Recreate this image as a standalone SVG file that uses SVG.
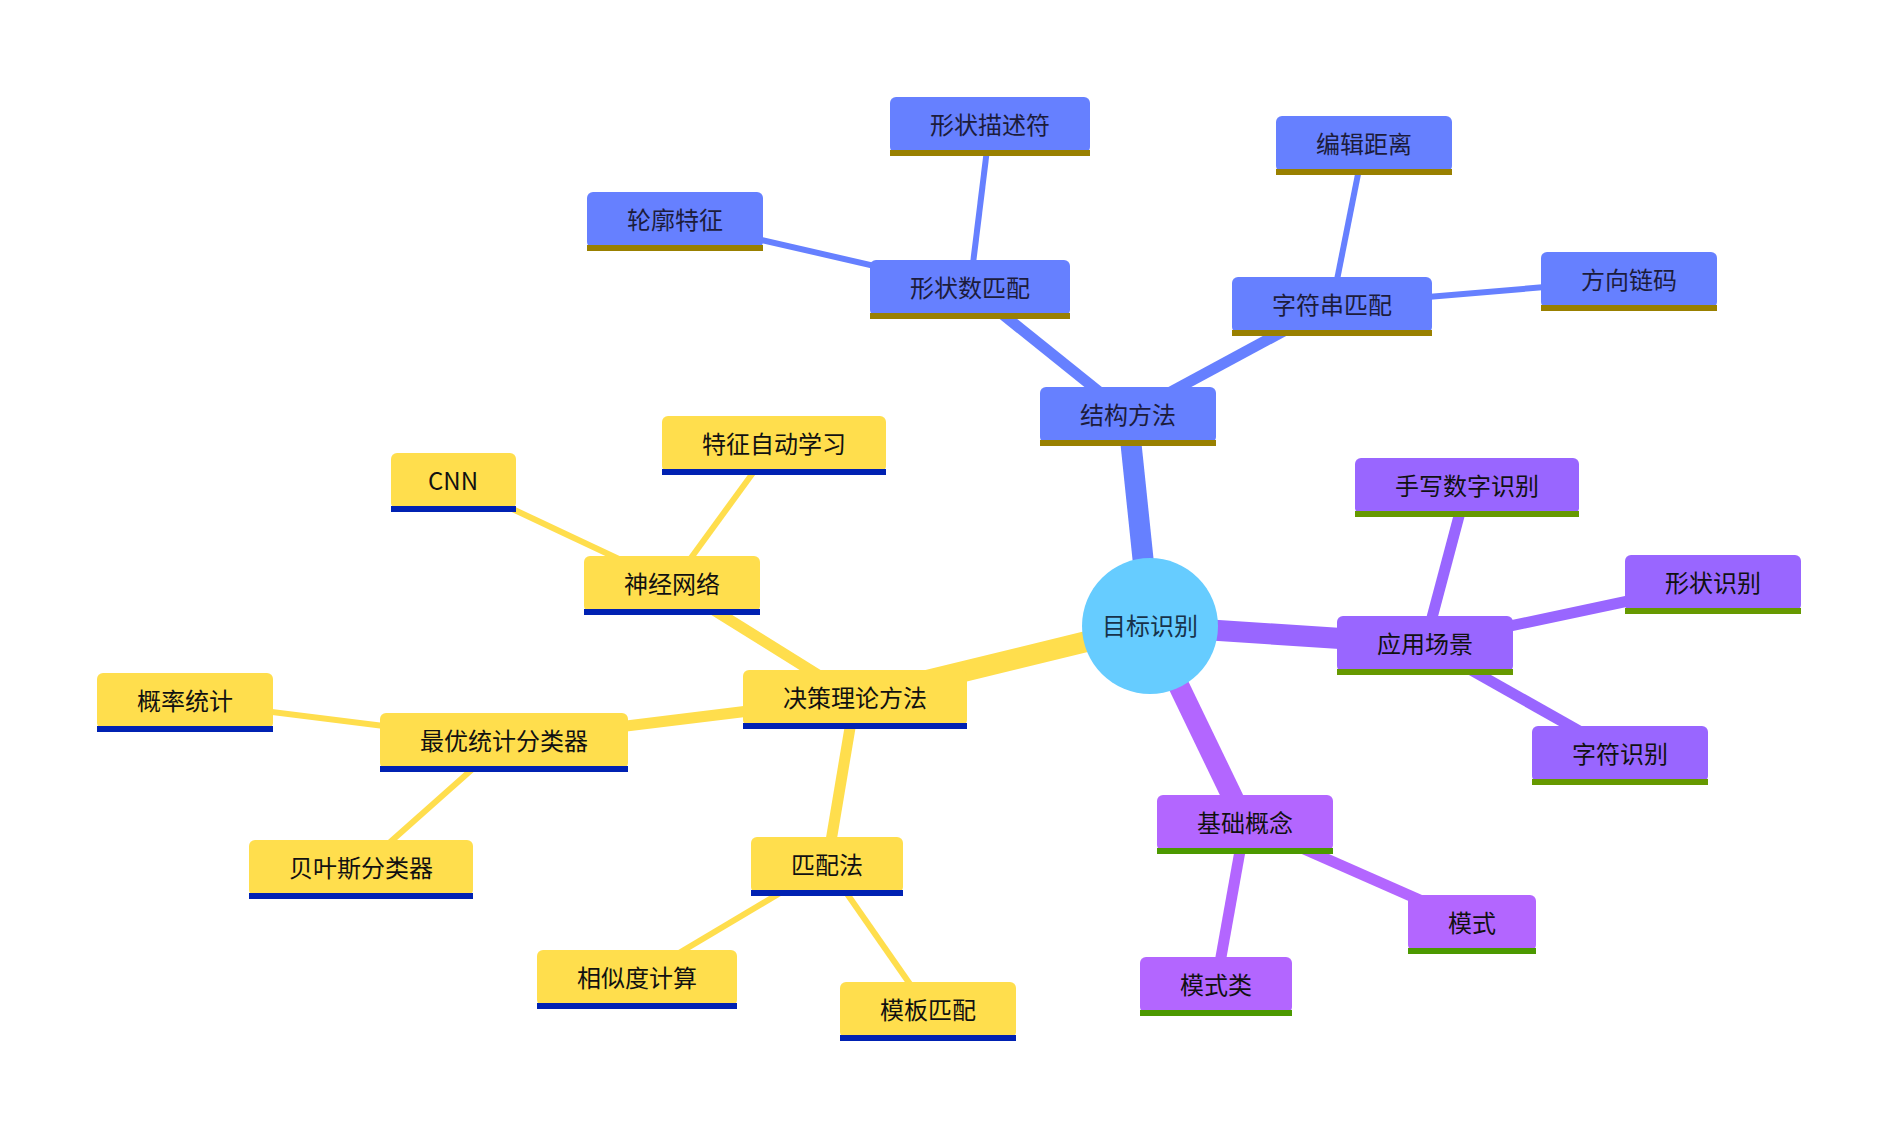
<svg xmlns="http://www.w3.org/2000/svg" width="1897" height="1133" viewBox="0 0 1897 1133">
<style>
text{font-family:"Noto Sans CJK SC","Noto Sans",sans-serif;font-size:24px;text-anchor:middle;dominant-baseline:central}
.e{fill:none;stroke-linecap:butt}
.d0{stroke-width:21}.d1{stroke-width:11}.d2{stroke-width:6}
.sb{stroke:#6680ff}.sy{stroke:#ffde4d}.sp{stroke:#9966ff}.sq{stroke:#b366ff}
.fb{fill:#6680ff}.fy{fill:#ffde4d}.fp{fill:#9966ff}.fq{fill:#b366ff}
.ub{fill:#998000}.uy{fill:#0021b2}.up{fill:#669900}.uq{fill:#4c9900}
.tb{fill:#1c1c3c}.tk{fill:#111}
</style>
<rect width="1897" height="1133" fill="#fff"/>
<g id="edges">
<line class="e d0 sb" x1="1150" y1="626" x2="1128" y2="415"/>
<line class="e d0 sy" x1="1150" y1="626" x2="855" y2="698"/>
<line class="e d0 sp" x1="1150" y1="626" x2="1425" y2="644"/>
<line class="e d0 sq" x1="1150" y1="626" x2="1245" y2="823"/>
<line class="e d1 sb" x1="1128" y1="415" x2="970" y2="288"/>
<line class="e d1 sb" x1="1128" y1="415" x2="1332" y2="305"/>
<line class="e d1 sy" x1="855" y1="698" x2="672" y2="584"/>
<line class="e d1 sy" x1="855" y1="698" x2="504" y2="741"/>
<line class="e d1 sy" x1="855" y1="698" x2="827" y2="865"/>
<line class="e d1 sp" x1="1425" y1="644" x2="1467" y2="486"/>
<line class="e d1 sp" x1="1425" y1="644" x2="1713" y2="583"/>
<line class="e d1 sp" x1="1425" y1="644" x2="1620" y2="754"/>
<line class="e d1 sq" x1="1245" y1="823" x2="1472" y2="923"/>
<line class="e d1 sq" x1="1245" y1="823" x2="1216" y2="985"/>
<line class="e d2 sb" x1="970" y1="288" x2="990" y2="125"/>
<line class="e d2 sb" x1="970" y1="288" x2="675" y2="220"/>
<line class="e d2 sb" x1="1332" y1="305" x2="1364" y2="144"/>
<line class="e d2 sb" x1="1332" y1="305" x2="1629" y2="280"/>
<line class="e d2 sy" x1="672" y1="584" x2="453" y2="481"/>
<line class="e d2 sy" x1="672" y1="584" x2="774" y2="444"/>
<line class="e d2 sy" x1="504" y1="741" x2="185" y2="701"/>
<line class="e d2 sy" x1="504" y1="741" x2="361" y2="868"/>
<line class="e d2 sy" x1="827" y1="865" x2="637" y2="978"/>
<line class="e d2 sy" x1="827" y1="865" x2="928" y2="1010"/>
</g>
<g id="root"><circle cx="1150" cy="626" r="68" fill="#66ccff"/><text x="1150" y="624" fill="#17324a">目标识别</text></g>
<g id="n-struct"><rect class="fb" x="1040" y="387" width="176" height="56" rx="6"/><rect class="ub" x="1040" y="440" width="176" height="6"/><text class="tb" x="1128" y="413">结构方法</text></g>
<g id="n-shapenum"><rect class="fb" x="870" y="260" width="200" height="56" rx="6"/><rect class="ub" x="870" y="313" width="200" height="6"/><text class="tb" x="970" y="286">形状数匹配</text></g>
<g id="n-shapedesc"><rect class="fb" x="890" y="97" width="200" height="56" rx="6"/><rect class="ub" x="890" y="150" width="200" height="6"/><text class="tb" x="990" y="123">形状描述符</text></g>
<g id="n-contour"><rect class="fb" x="587" y="192" width="176" height="56" rx="6"/><rect class="ub" x="587" y="245" width="176" height="6"/><text class="tb" x="675" y="218">轮廓特征</text></g>
<g id="n-string"><rect class="fb" x="1232" y="277" width="200" height="56" rx="6"/><rect class="ub" x="1232" y="330" width="200" height="6"/><text class="tb" x="1332" y="303">字符串匹配</text></g>
<g id="n-edit"><rect class="fb" x="1276" y="116" width="176" height="56" rx="6"/><rect class="ub" x="1276" y="169" width="176" height="6"/><text class="tb" x="1364" y="142">编辑距离</text></g>
<g id="n-chain"><rect class="fb" x="1541" y="252" width="176" height="56" rx="6"/><rect class="ub" x="1541" y="305" width="176" height="6"/><text class="tb" x="1629" y="278">方向链码</text></g>
<g id="n-decision"><rect class="fy" x="743" y="670" width="224" height="56" rx="6"/><rect class="uy" x="743" y="723" width="224" height="6"/><text class="tk" x="855" y="696">决策理论方法</text></g>
<g id="n-nn"><rect class="fy" x="584" y="556" width="176" height="56" rx="6"/><rect class="uy" x="584" y="609" width="176" height="6"/><text class="tk" x="672" y="582">神经网络</text></g>
<g id="n-feat"><rect class="fy" x="662" y="416" width="224" height="56" rx="6"/><rect class="uy" x="662" y="469" width="224" height="6"/><text class="tk" x="774" y="442">特征自动学习</text></g>
<g id="n-cnn"><rect class="fy" x="391" y="453" width="125" height="56" rx="6"/><rect class="uy" x="391" y="506" width="125" height="6"/><text class="tk" x="453" y="479">CNN</text></g>
<g id="n-optimal"><rect class="fy" x="380" y="713" width="248" height="56" rx="6"/><rect class="uy" x="380" y="766" width="248" height="6"/><text class="tk" x="504" y="739">最优统计分类器</text></g>
<g id="n-prob"><rect class="fy" x="97" y="673" width="176" height="56" rx="6"/><rect class="uy" x="97" y="726" width="176" height="6"/><text class="tk" x="185" y="699">概率统计</text></g>
<g id="n-bayes"><rect class="fy" x="249" y="840" width="224" height="56" rx="6"/><rect class="uy" x="249" y="893" width="224" height="6"/><text class="tk" x="361" y="866">贝叶斯分类器</text></g>
<g id="n-match"><rect class="fy" x="751" y="837" width="152" height="56" rx="6"/><rect class="uy" x="751" y="890" width="152" height="6"/><text class="tk" x="827" y="863">匹配法</text></g>
<g id="n-sim"><rect class="fy" x="537" y="950" width="200" height="56" rx="6"/><rect class="uy" x="537" y="1003" width="200" height="6"/><text class="tk" x="637" y="976">相似度计算</text></g>
<g id="n-template"><rect class="fy" x="840" y="982" width="176" height="56" rx="6"/><rect class="uy" x="840" y="1035" width="176" height="6"/><text class="tk" x="928" y="1008">模板匹配</text></g>
<g id="n-app"><rect class="fp" x="1337" y="616" width="176" height="56" rx="6"/><rect class="up" x="1337" y="669" width="176" height="6"/><text class="tk" x="1425" y="642">应用场景</text></g>
<g id="n-hand"><rect class="fp" x="1355" y="458" width="224" height="56" rx="6"/><rect class="up" x="1355" y="511" width="224" height="6"/><text class="tk" x="1467" y="484">手写数字识别</text></g>
<g id="n-shaperec"><rect class="fp" x="1625" y="555" width="176" height="56" rx="6"/><rect class="up" x="1625" y="608" width="176" height="6"/><text class="tk" x="1713" y="581">形状识别</text></g>
<g id="n-charrec"><rect class="fp" x="1532" y="726" width="176" height="56" rx="6"/><rect class="up" x="1532" y="779" width="176" height="6"/><text class="tk" x="1620" y="752">字符识别</text></g>
<g id="n-basic"><rect class="fq" x="1157" y="795" width="176" height="56" rx="6"/><rect class="uq" x="1157" y="848" width="176" height="6"/><text class="tk" x="1245" y="821">基础概念</text></g>
<g id="n-pattern"><rect class="fq" x="1408" y="895" width="128" height="56" rx="6"/><rect class="uq" x="1408" y="948" width="128" height="6"/><text class="tk" x="1472" y="921">模式</text></g>
<g id="n-class"><rect class="fq" x="1140" y="957" width="152" height="56" rx="6"/><rect class="uq" x="1140" y="1010" width="152" height="6"/><text class="tk" x="1216" y="983">模式类</text></g>
</svg>
